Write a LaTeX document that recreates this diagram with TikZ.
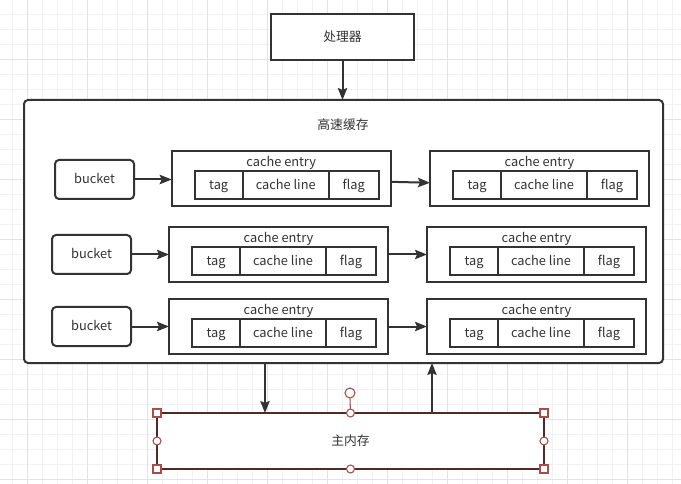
\documentclass[tikz,border=0pt]{standalone}
\usepackage{fontspec}
\setmainfont{Noto Sans CJK SC}
\usetikzlibrary{arrows.meta}
\definecolor{linec}{HTML}{333333}
\definecolor{gridminor}{HTML}{F2F2F2}
\definecolor{gridmajor}{HTML}{E3E3E3}
\definecolor{memc}{HTML}{4F2A2A}
\definecolor{handlec}{HTML}{A34E4E}
\tikzset{
  txt/.style={font=\fontsize{9.6pt}{11pt}\selectfont, text=linec, text height=8pt, text depth=1.5pt},
  bigbox/.style={draw=linec, line width=1.5pt, inner sep=0pt, outer sep=0pt, fill=white},
  roundbox/.style={bigbox, rounded corners=3pt},
  entrybox/.style={draw=linec, line width=1.5pt, inner sep=0pt, outer sep=0pt, fill=white,
     minimum width=219*0.75pt, minimum height=55*0.75pt},
  cell/.style={draw=linec, line width=1.3pt, inner sep=0pt, outer sep=0pt, minimum height=28*0.75pt, txt},
  conn/.style={draw=linec, line width=1.5pt, -{Stealth[length=9pt,width=7pt,inset=1.5pt]}},
  handlesq/.style={draw=handlec, fill=white, line width=0.8pt, inner sep=0pt, minimum size=6pt},
  handleci/.style={draw=handlec, fill=white, line width=0.8pt, circle, inner sep=0pt, minimum size=6pt},
}
\newcommand\centry[3]{%
  \node[entrybox, anchor=north west] (#1) at (#2,#3) {};
  \node[txt] (#1c) at (#2+109.5,#3+11) {cache entry};
  \node[cell, minimum width=48*0.75pt, anchor=north west] (#1t) at (#2+23,#3+20) {tag};
  \node[cell, minimum width=86*0.75pt, anchor=north west] (#1l) at (#1t.north east) {cache line};
  \node[cell, minimum width=50*0.75pt, anchor=north west] (#1f) at (#1l.north east) {flag};
}
\begin{document}
\begin{tikzpicture}[x=0.75pt,y=-0.75pt]
\useasboundingbox (0,0) rectangle (681,484);
\fill[white] (0,0) rectangle (681,484);
% grid
\foreach \i in {0,...,45} {
  \draw[gridminor, line width=0.75pt] (12.7+15*\i,0) -- (12.7+15*\i,484);
}
\foreach \i in {0,...,32} {
  \draw[gridminor, line width=0.75pt] (0,14.3+15*\i) -- (681,14.3+15*\i);
}
\foreach \i in {0,...,11} {
  \draw[gridmajor, line width=0.75pt] (27.7+60*\i,0) -- (27.7+60*\i,484);
}
\foreach \i in {0,...,8} {
  \draw[gridmajor, line width=0.75pt] (0,59.3+60*\i) -- (681,59.3+60*\i);
}
% processor
\node[bigbox, minimum width=143*0.75pt, minimum height=46*0.75pt, anchor=north west, txt] (cpu) at (271,14) {处理器};
% cache
\node[roundbox, minimum width=639*0.75pt, minimum height=263*0.75pt, anchor=north west] (cache) at (24,100) {};
\node[txt] (cachelbl) at (343,125) {高速缓存};
% buckets
\node[roundbox, minimum width=79*0.75pt, minimum height=39*0.75pt, anchor=north west, txt] (b1) at (55,160) {bucket};
\node[roundbox, minimum width=79*0.75pt, minimum height=39*0.75pt, anchor=north west, txt] (b2) at (52,235) {bucket};
\node[roundbox, minimum width=79*0.75pt, minimum height=39*0.75pt, anchor=north west, txt] (b3) at (52,307) {bucket};
% entries
\centry{e11}{171.7}{151}
\centry{e12}{430}{151}
\centry{e21}{169}{227}
\centry{e22}{427}{227}
\centry{e31}{169}{299}
\centry{e32}{427}{299}
% arrows
\draw[conn] (cpu.south) -- (cache.north -| cpu.south);
\draw[conn] (b1.east) -- (e11.west |- b1.east);
\draw[conn] (b2.east) -- (e21.west |- b2.east);
\draw[conn] (b3.east) -- (e31.west |- b3.east);
\draw[conn] ([yshift=-2.5pt]e11.east) -- ([yshift=-3.2pt]e12.west);
\draw[conn] (e21.east) -- (e22.west);
\draw[conn] (e31.east) -- (e32.west);
% main memory
\node[draw=memc, line width=1.5pt, fill=white, inner sep=0pt, outer sep=0pt, minimum width=387*0.75pt, minimum height=56*0.75pt, anchor=north west, txt] (mem) at (157,413) {主内存};
\coordinate (downx) at (265,0);
\coordinate (upx) at (432,0);
\draw[conn] (cache.south -| downx) -- (mem.north -| downx);
\draw[conn] (mem.north -| upx) -- (cache.south -| upx);
% selection handles
\node[handleci, minimum size=7.5pt] (rot) at (350,393) {};
\draw[handlec, line width=0.8pt] (rot.south) -- (mem.north);
\node[handlesq] (h1) at (mem.north west) {};
\node[handlesq] (h2) at (mem.north east) {};
\node[handlesq] (h3) at (mem.south west) {};
\node[handlesq] (h4) at (mem.south east) {};
\node[handleci] (h5) at (mem.north) {};
\node[handleci] (h6) at (mem.south) {};
\node[handleci] (h7) at (mem.west) {};
\node[handleci] (h8) at (mem.east) {};
\end{tikzpicture}
\end{document}
